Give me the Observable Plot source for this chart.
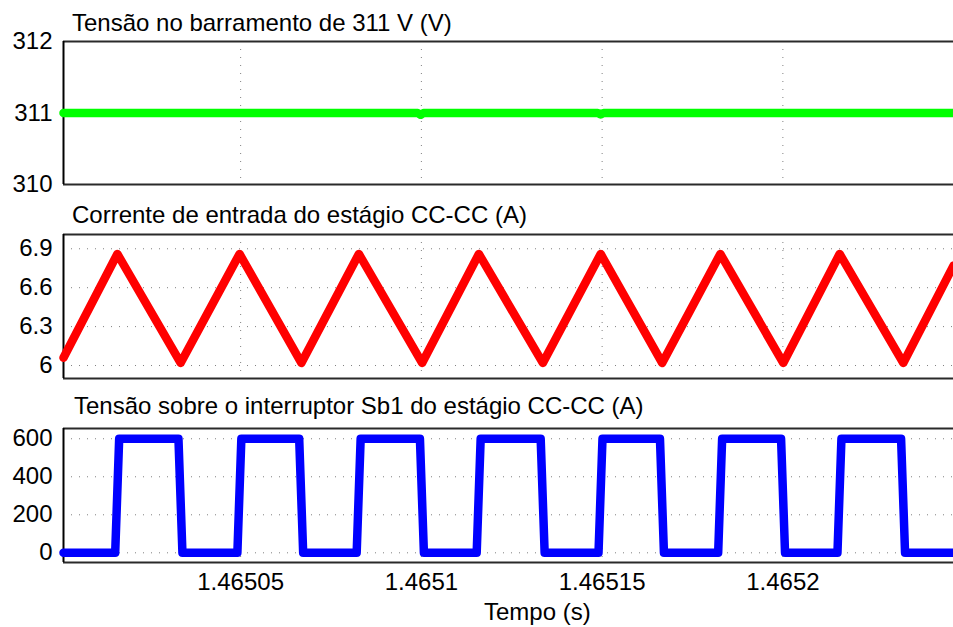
<!DOCTYPE html>
<html>
<head>
<meta charset="utf-8">
<script src="https://cdn.jsdelivr.net/npm/d3@7"></script>
<script src="https://cdn.jsdelivr.net/npm/@observablehq/plot@0.6"></script>
<style>
  html, body { margin: 0; padding: 0; background: #fff; }
  #wrap { position: relative; width: 953px; height: 627px; overflow: hidden; font-family: "Liberation Sans", Arial, sans-serif; }
  #wrap svg { position: absolute; left: 0; }
  .ttl { position: absolute; font-size: 24px; line-height: 24px; color: #000; white-space: nowrap; }
</style>
</head>
<body>
<div id="wrap"></div>
<script>
// ---------- data ----------
const xDomain = [1.465001, 1.4652472];
const xTicks = [1.46505, 1.4651, 1.46515, 1.4652];

// Panel 1: bus voltage (V)
const busTime = [1.465001, 1.4650990, 1.4650998, 1.4651006, 1.4651488, 1.4651496, 1.4651504, 1.4652472];
const busVolt = [311, 311, 310.975, 311, 311, 310.98, 311, 311];
const busTicks = [310, 311, 312];

// Panel 2: DC-DC input current (A)
const curTime = [1.465001, 1.4650159, 1.4650334, 1.4650497, 1.4650668, 1.4650827, 1.4651002,
                 1.4651159, 1.4651336, 1.4651496, 1.4651666, 1.4651827, 1.4652001, 1.4652157,
                 1.4652333, 1.4652472];
const curAmp  = [6.06, 6.86, 6.02, 6.86, 6.02, 6.86, 6.02,
                 6.86, 6.02, 6.86, 6.02, 6.86, 6.02, 6.86,
                 6.02, 6.77];
const curTicks = [6, 6.3, 6.6, 6.9];

// Panel 3: switch Sb1 voltage
const swTime = [1.465001,
  1.4650153, 1.4650164, 1.4650328, 1.4650339,
  1.4650491, 1.4650502, 1.4650662, 1.4650673,
  1.4650821, 1.4650832, 1.4650996, 1.4651007,
  1.4651153, 1.4651164, 1.4651330, 1.4651341,
  1.4651490, 1.4651501, 1.4651660, 1.4651671,
  1.4651821, 1.4651832, 1.4651995, 1.4652006,
  1.4652151, 1.4652162, 1.4652327, 1.4652338,
  1.4652472];
const swVolt = [0,
  0, 600, 600, 0,
  0, 600, 600, 0,
  0, 600, 600, 0,
  0, 600, 600, 0,
  0, 600, 600, 0,
  0, 600, 600, 0,
  0, 600, 600, 0,
  0];
const swTicks = [0, 200, 400, 600];

const titles = [
  "Tensão no barramento de 311 V (V)",
  "Corrente de entrada do estágio CC-CC (A)",
  "Tensão sobre o interruptor Sb1 do estágio CC-CC (A)"
];
const xLabel = "Tempo (s)";

// ---------- drawing ----------
const wrap = document.getElementById("wrap");
const FONT = "\"Liberation Sans\", Arial, sans-serif";

function panel({top, frameH, mb, yDomain, yTicks, t, v, color, gridY, showX}) {
  const mt = 14;
  const rows = t.map((d, i) => ({t: d, v: v[i]}));
  const svg = Plot.plot({
    width: 953,
    height: mt + frameH + mb,
    marginLeft: 63,
    marginRight: 0,
    marginTop: mt,
    marginBottom: mb,
    style: {background: "transparent", fontSize: "24px", fontFamily: FONT, color: "#000", overflow: "visible"},
    x: {
      domain: xDomain,
      ticks: xTicks,
      tickSize: 0,
      tickPadding: 10,
      tickFormat: d => d.toFixed(5).replace(/0+$/, ""),
      label: null,
      axis: showX ? "bottom" : null
    },
    y: {
      domain: yDomain,
      ticks: yTicks,
      tickSize: 0,
      tickPadding: 11,
      tickFormat: d => String(d),
      label: null
    },
    marks: [
      Plot.ruleX(xTicks, {stroke: "#808080", strokeWidth: 1, strokeDasharray: "1,7"}),
      gridY ? Plot.ruleY(yTicks, {stroke: "#808080", strokeWidth: 1, strokeDasharray: "1,7"}) : null,
      Plot.ruleY([yDomain[0], yDomain[1]], {stroke: "#2a2a2a", strokeWidth: 2}),
      Plot.ruleX([xDomain[0]], {stroke: "#000", strokeWidth: 2}),
      Plot.line(rows, {x: "t", y: "v", stroke: color, strokeWidth: 8.5, strokeLinejoin: "round", strokeLinecap: "round"})
    ]
  });
  svg.style.top = (top - mt) + "px";
  wrap.appendChild(svg);
}

panel({top: 41, frameH: 143, mb: 14, yDomain: [310, 312], yTicks: busTicks, t: busTime, v: busVolt, color: "#00ff00", gridY: false, showX: false});
panel({top: 234, frameH: 144, mb: 14, yDomain: [5.9, 7.01], yTicks: curTicks, t: curTime, v: curAmp, color: "#ff0000", gridY: true, showX: false});
panel({top: 428, frameH: 134, mb: 40, yDomain: [-51, 654], yTicks: swTicks, t: swTime, v: swVolt, color: "#0000ff", gridY: true, showX: true});

function addText(txt, left, top) {
  const d = document.createElement("div");
  d.className = "ttl";
  d.textContent = txt;
  d.style.left = left + "px";
  d.style.top = top + "px";
  wrap.appendChild(d);
}
addText(titles[0], 72, 11);
addText(titles[1], 72, 203);
addText(titles[2], 74, 394);
addText(xLabel, 484, 600);
</script>
</body>
</html>
